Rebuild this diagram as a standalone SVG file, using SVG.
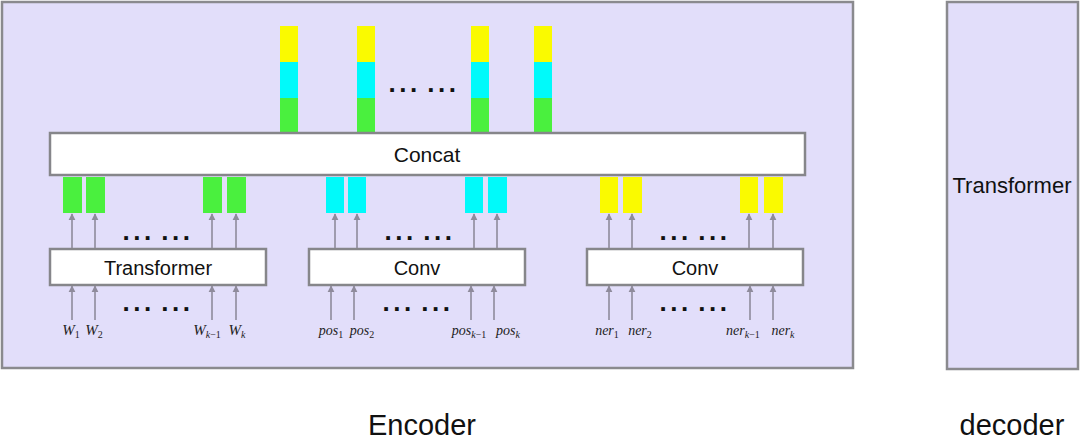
<svg xmlns="http://www.w3.org/2000/svg" width="1080" height="447" viewBox="0 0 1080 447">
<style>
.panel{fill:#e2defa;stroke:#8a8a8e;stroke-width:2.5}
.box{fill:#ffffff;stroke:#86868a;stroke-width:2.5}
.lbl{font-family:"Liberation Sans",Arial,sans-serif;fill:#111;text-anchor:middle}
.dots{font-family:"Liberation Sans",Arial,sans-serif;font-weight:bold;font-size:26px;fill:#111;text-anchor:middle;letter-spacing:3.5px;word-spacing:-4px}
.math{font-family:"Liberation Serif","Times New Roman",serif;font-size:15px;fill:#222;text-anchor:middle}
.sm{font-size:14px}
.it{font-style:italic}
.sub{font-size:10px}
.g{fill:#4af03e}.c{fill:#00fafa}.y{fill:#fafa00}
.arr{stroke:#8f8b9c;stroke-width:1.6;fill:none;marker-end:url(#ah)}
</style>
<defs>
<marker id="ah" viewBox="0 0 10 10" refX="9" refY="5" markerWidth="7" markerHeight="8" markerUnits="userSpaceOnUse" orient="auto">
<path d="M0,0 L10,5 L0,10 z" fill="#8f8b9c"/>
</marker>
</defs>
<rect width="1080" height="447" fill="#ffffff"/>
<g id="encoder">
<rect class="panel" x="2" y="2" width="851" height="366"/>
<text class="lbl" x="422" y="435" font-size="29">Encoder</text>
</g>
<g id="decoder">
<rect class="panel" x="947" y="2" width="131" height="367"/>
<text class="lbl" x="1012" y="193" font-size="22">Transformer</text>
<text class="lbl" x="1012" y="435" font-size="29">decoder</text>
</g>
<g id="output-vectors">
<rect class="y" x="280" y="26" width="18" height="36"/><rect class="c" x="280" y="62" width="18" height="36"/><rect class="g" x="280" y="98" width="18" height="35"/>
<rect class="y" x="357" y="26" width="18" height="36"/><rect class="c" x="357" y="62" width="18" height="36"/><rect class="g" x="357" y="98" width="18" height="35"/>
<rect class="y" x="471" y="26" width="18" height="36"/><rect class="c" x="471" y="62" width="18" height="36"/><rect class="g" x="471" y="98" width="18" height="35"/>
<rect class="y" x="534" y="26" width="18" height="36"/><rect class="c" x="534" y="62" width="18" height="36"/><rect class="g" x="534" y="98" width="18" height="35"/>
<text class="dots" x="424" y="92">... ...</text>
</g>
<g id="concat">
<rect class="box" x="50" y="133" width="755" height="42"/>
<text class="lbl" x="427" y="162" font-size="21">Concat</text>
</g>
<g id="word-vectors">
<rect class="g" x="63" y="177" width="19" height="36"/>
<rect class="g" x="86" y="177" width="19" height="36"/>
<rect class="g" x="203" y="177" width="19" height="36"/>
<rect class="g" x="227" y="177" width="19" height="36"/>
<text class="dots" x="158" y="240">... ...</text>
</g>
<g id="pos-vectors">
<rect class="c" x="326" y="177" width="18" height="36"/>
<rect class="c" x="348" y="177" width="18" height="36"/>
<rect class="c" x="465" y="177" width="18" height="36"/>
<rect class="c" x="488" y="177" width="19" height="36"/>
<text class="dots" x="420" y="240">... ...</text>
</g>
<g id="ner-vectors">
<rect class="y" x="600" y="177" width="18" height="36"/>
<rect class="y" x="623" y="177" width="19" height="36"/>
<rect class="y" x="740" y="177" width="18" height="36"/>
<rect class="y" x="764" y="177" width="19" height="36"/>
<text class="dots" x="695" y="240">... ...</text>
</g>
<g id="transformer">
<rect class="box" x="50" y="249" width="216" height="36"/>
<text class="lbl" x="158" y="275" font-size="20">Transformer</text>
</g>
<g id="conv-pos">
<rect class="box" x="309" y="249" width="216" height="36"/>
<text class="lbl" x="417" y="275" font-size="20">Conv</text>
</g>
<g id="conv-ner">
<rect class="box" x="587" y="249" width="216" height="36"/>
<text class="lbl" x="695" y="275" font-size="20">Conv</text>
</g>
<g id="connectors">
<line class="arr" x1="72" y1="248" x2="72" y2="214"/>
<line class="arr" x1="95" y1="248" x2="95" y2="214"/>
<line class="arr" x1="212" y1="248" x2="212" y2="214"/>
<line class="arr" x1="236" y1="248" x2="236" y2="214"/>
<line class="arr" x1="335" y1="248" x2="335" y2="214"/>
<line class="arr" x1="357" y1="248" x2="357" y2="214"/>
<line class="arr" x1="474" y1="248" x2="474" y2="214"/>
<line class="arr" x1="497" y1="248" x2="497" y2="214"/>
<line class="arr" x1="609" y1="248" x2="609" y2="214"/>
<line class="arr" x1="632" y1="248" x2="632" y2="214"/>
<line class="arr" x1="749" y1="248" x2="749" y2="214"/>
<line class="arr" x1="773" y1="248" x2="773" y2="214"/>
<line class="arr" x1="72" y1="320" x2="72" y2="286"/>
<line class="arr" x1="95" y1="320" x2="95" y2="286"/>
<line class="arr" x1="212" y1="320" x2="212" y2="286"/>
<line class="arr" x1="236" y1="320" x2="236" y2="286"/>
<line class="arr" x1="331" y1="320" x2="331" y2="286"/>
<line class="arr" x1="354" y1="320" x2="354" y2="286"/>
<line class="arr" x1="471" y1="320" x2="471" y2="286"/>
<line class="arr" x1="494" y1="320" x2="494" y2="286"/>
<line class="arr" x1="609" y1="320" x2="609" y2="286"/>
<line class="arr" x1="632" y1="320" x2="632" y2="286"/>
<line class="arr" x1="750" y1="320" x2="750" y2="286"/>
<line class="arr" x1="773" y1="320" x2="773" y2="286"/>
</g>
<g id="dots-lower">
<text class="dots" x="158" y="311">... ...</text>
<text class="dots" x="418" y="311">... ...</text>
<text class="dots" x="695" y="311">... ...</text>
</g>
<g id="input-labels">
<text class="math" x="71" y="335"><tspan class="it">W</tspan><tspan class="sub" dy="3">1</tspan></text>
<text class="math" x="94" y="335"><tspan class="it">W</tspan><tspan class="sub" dy="3">2</tspan></text>
<text class="math" x="207" y="335"><tspan class="it">W</tspan><tspan class="sub it" dy="3">k</tspan><tspan class="sub">−1</tspan></text>
<text class="math" x="237" y="335"><tspan class="it">W</tspan><tspan class="sub it" dy="3">k</tspan></text>
<text class="math sm" x="331" y="335"><tspan class="it">pos</tspan><tspan class="sub" dy="3">1</tspan></text>
<text class="math sm" x="362" y="335"><tspan class="it">pos</tspan><tspan class="sub" dy="3">2</tspan></text>
<text class="math sm" x="469" y="335"><tspan class="it">pos</tspan><tspan class="sub it" dy="3">k</tspan><tspan class="sub">−1</tspan></text>
<text class="math sm" x="508" y="335"><tspan class="it">pos</tspan><tspan class="sub it" dy="3">k</tspan></text>
<text class="math sm" x="607" y="335"><tspan class="it">ner</tspan><tspan class="sub" dy="3">1</tspan></text>
<text class="math sm" x="640" y="335"><tspan class="it">ner</tspan><tspan class="sub" dy="3">2</tspan></text>
<text class="math sm" x="743" y="335"><tspan class="it">ner</tspan><tspan class="sub it" dy="3">k</tspan><tspan class="sub">−1</tspan></text>
<text class="math sm" x="783" y="335"><tspan class="it">ner</tspan><tspan class="sub it" dy="3">k</tspan></text>
</g>
</svg>
